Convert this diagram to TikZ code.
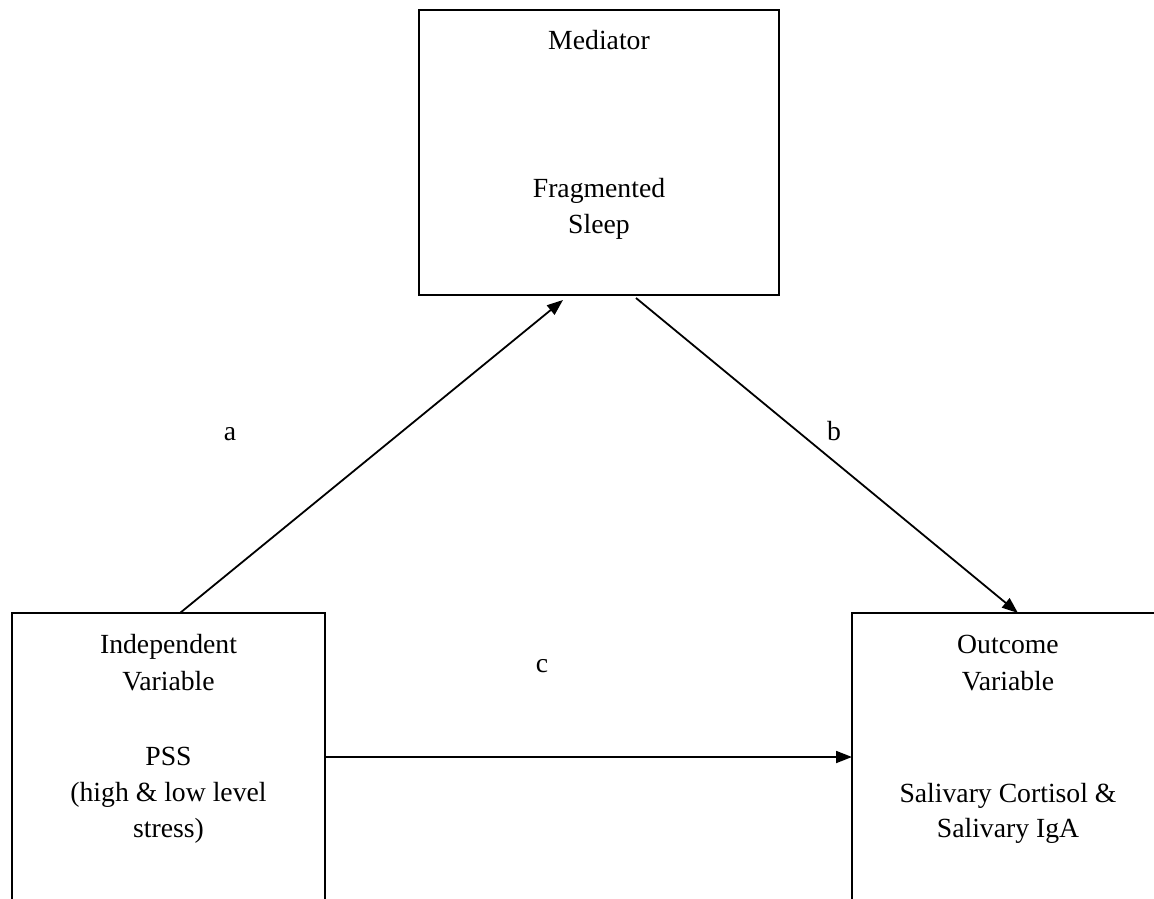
\documentclass[tikz,border=0pt]{standalone}
\usepackage{fontspec}
\setmainfont{Liberation Serif}
\usetikzlibrary{arrows.meta}
\begin{document}
\begin{tikzpicture}[x=1pt,y=-1pt,
  box/.style={draw, line width=2pt, inner sep=0pt, outer sep=0pt, anchor=north west},
  txt/.style={anchor=base, inner sep=0pt, font=\fontsize{27.7}{36.7}\selectfont},
  link/.style={line width=1.8pt, -{Triangle[length=16pt,width=12pt]}}]
\useasboundingbox (0,0) rectangle (1154,899);
\clip (0,0) rectangle (1154,899);
% boxes (the two lower ones run past the bottom edge)
\node[box, minimum width=360pt, minimum height=285pt] (med) at (419,10) {};
\node[box, minimum width=313pt, minimum height=320pt] (iv) at (12,613) {};
\node[box, minimum width=313pt, minimum height=320pt] (ov) at (852,613) {};
% mediator text
\node[txt] (medA) at (599,50) {Mediator};
\node[txt] (medB) at (599,197) {Fragmented};
\node[txt] (medC) at (599,233) {Sleep};
% independent variable text
\node[txt] (ivA) at (168.5,653) {Independent};
\node[txt] (ivB) at (168.5,690) {Variable};
\node[txt] (ivC) at (168.5,765) {PSS};
\node[txt] (ivD) at (168.5,801) {(high \& low level};
\node[txt] (ivE) at (168.5,837) {stress)};
% outcome variable text
\node[txt] (ovA) at (1008,653) {Outcome};
\node[txt] (ovB) at (1008,690) {Variable};
\node[txt] (ovC) at (1008,802) {Salivary Cortisol \&};
\node[txt] (ovD) at (1008,837) {Salivary IgA};
% path labels
\node[txt] (la) at (230,440) {a};
\node[txt] (lb) at (834,440) {b};
\node[txt] (lc) at (542,672) {c};
% paths
\draw[link] ([xshift=11.5pt]iv.north) -- ([xshift=-36pt,yshift=-5pt]med.south);
\draw[link] ([xshift=37pt,yshift=-3pt]med.south) -- ([xshift=166pt]ov.north west);
\draw[link] ([yshift=-144pt]iv.north east) -- ([yshift=-144pt]ov.north west);
\end{tikzpicture}
\end{document}
